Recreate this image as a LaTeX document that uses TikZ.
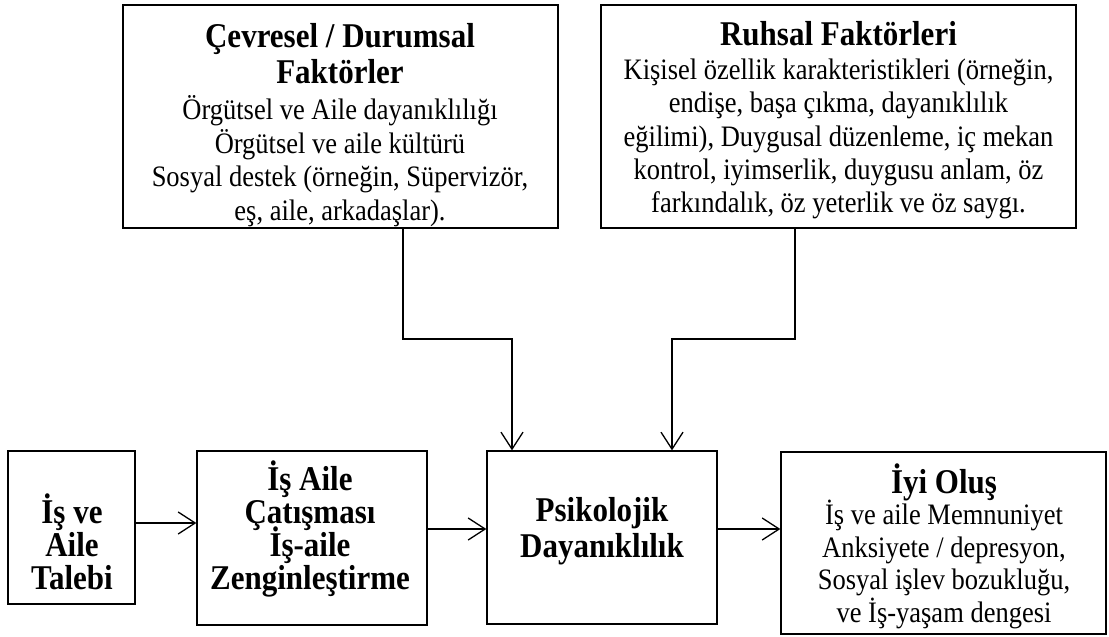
\documentclass[tikz,border=0pt]{standalone}
\usepackage{graphicx}
\usepackage{fontspec}
\setmainfont{Liberation Serif}
\usetikzlibrary{arrows.meta}
\newcommand\ttlfont{\fontsize{31}{36}\selectfont\bfseries}
\newcommand\stretchtext[4]{\scalebox{1}[1.12]{\parbox{#1}{\centering\fontsize{#2}{#3}\selectfont\lineskiplimit=-100pt\relax #4\par}}}
\begin{document}
\begin{tikzpicture}[x=1pt,y=-1pt,
  box/.style={draw, line width=1.3pt, rectangle, inner sep=0pt, anchor=center},
  txt/.style={inner sep=0pt, anchor=center},
  arr/.style={line width=1.3pt, -{Straight Barb[length=17pt,width=22pt,line width=1.3pt]}}]
\useasboundingbox (0,0) rectangle (1109,637);
\fill[white] (0,0) rectangle (1109,637);

% boxes
\node[box, minimum width=435pt, minimum height=223pt] (env) at (340.5,116.5) {};
\node[box, minimum width=475pt, minimum height=223pt] (ruh) at (838.5,116.5) {};
\node[box, minimum width=127pt, minimum height=153pt] (talep) at (71.5,527.5) {};
\node[box, minimum width=230pt, minimum height=174pt] (cat) at (312,538) {};
\node[box, minimum width=230pt, minimum height=173pt] (psi) at (602,537.5) {};
\node[box, minimum width=325pt, minimum height=182pt] (iyi) at (943.5,543) {};

% texts
\node[txt] (envT) at (340,125)
  {\stretchtext{430pt}{26.5}{29.9}{{\ttlfont Çevresel / Durumsal}\\[2.8pt]{\ttlfont Faktörler}\\[2.2pt]
   Örgütsel ve Aile dayanıklılığı\\Örgütsel ve aile kültürü\\
   Sosyal destek (örneğin, Süpervizör,\\eş, aile, arkadaşlar).}};
\node[txt] (ruhT) at (838.5,120)
  {\stretchtext{470pt}{26.5}{29.5}{{\ttlfont Ruhsal Faktörleri}\\[1.2pt]
   Kişisel özellik karakteristikleri (örneğin,\\endişe, başa çıkma, dayanıklılık\\
   eğilimi), Duygusal düzenleme, iç mekan\\kontrol, iyimserlik, duygusu anlam, öz\\
   farkındalık, öz yeterlik ve öz saygı.}};
\node[txt] (talepT) at (72,542)
  {\stretchtext{125pt}{31}{29.5}{\bfseries İş ve\\Aile\\Talebi}};
\node[txt] (catT) at (310,529)
  {\stretchtext{228pt}{31}{29.5}{\bfseries İş Aile\\Çatışması\\İş-aile\\Zenginleştirme}};
\node[txt] (psiT) at (602,531)
  {\stretchtext{228pt}{31}{32.2}{\bfseries Psikolojik\\Dayanıklılık}};
\node[txt] (iyiT) at (944,546)
  {\stretchtext{320pt}{26.5}{29}{{\ttlfont İyi Oluş}\\[-1pt]İş ve aile Memnuniyet\\Anksiyete / depresyon,\\
   Sosyal işlev bozukluğu,\\ve İş-yaşam dengesi}};

% connectors
\coordinate (c1) at (403,339);
\coordinate (c2) at (512,339);
\coordinate (c3) at (795,339);
\coordinate (c4) at (672,339);
\coordinate (h1) at (0,523);
\coordinate (h2) at (0,529);
\draw[arr] (env.south -| c1) |- (c2) -- (psi.north -| c2);
\draw[arr] (ruh.south -| c3) |- (c4) -- (psi.north -| c4);
\draw[arr] (talep.east |- h1) -- (cat.west |- h1);
\draw[arr] (cat.east |- h2) -- (psi.west |- h2);
\draw[arr] (psi.east |- h2) -- (iyi.west |- h2);
\end{tikzpicture}
\end{document}
